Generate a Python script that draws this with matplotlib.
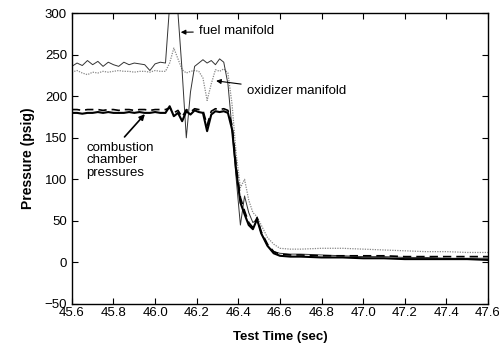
import numpy as np
import matplotlib.pyplot as plt

plt.rcParams['font.family'] = ['Liberation Sans', 'DejaVu Sans']

# test time (sec)
t = [45.600, 45.625, 45.650, 45.675, 45.700, 45.725, 45.750, 45.775, 45.800, 45.825,
     45.850, 45.875, 45.900, 45.925, 45.950, 45.975, 46.000, 46.025, 46.050,
     46.07, 46.09, 46.11, 46.13, 46.15, 46.17, 46.19, 46.21, 46.23, 46.25,
     46.27, 46.29, 46.31, 46.33, 46.35, 46.37, 46.39, 46.41, 46.43, 46.45,
     46.47, 46.49, 46.51, 46.54, 46.57, 46.60, 46.65, 46.70, 46.80, 46.90,
     47.00, 47.10, 47.20, 47.30, 47.40, 47.50, 47.60]

fuel_manifold = [236, 240, 237, 243, 238, 242, 236, 241, 238, 236,
                 241, 238, 240, 239, 238, 231, 239, 241, 240,
                 310, 360, 300, 230, 150, 205, 236, 240, 244, 240,
                 243, 238, 245, 241, 215, 160, 100, 45, 80, 60,
                 48, 52, 35, 20, 13, 11, 10, 10, 9, 8,
                 7, 7, 6, 6, 5, 5, 5]

oxidizer_manifold = [229, 231, 228, 226, 229, 228, 230, 229, 230, 231,
                     230, 230, 229, 230, 230, 229, 231, 230, 230,
                     240, 258, 245, 232, 228, 230, 231, 230, 222, 195,
                     215, 232, 230, 233, 228, 190, 130, 90, 100, 75,
                     60, 55, 45, 30, 22, 17, 16, 16, 17, 17,
                     16, 15, 14, 13, 13, 12, 12]

chamber_a = [180, 180, 179, 180, 180, 181, 180, 181, 180, 180,
             180, 181, 180, 181, 180, 180, 181, 180, 180,
             188, 176, 180, 170, 182, 178, 183, 181, 180, 158,
             178, 182, 181, 182, 180, 160, 110, 72, 58, 45,
             40, 52, 35, 20, 11, 8, 7, 7, 6, 6,
             5, 5, 4, 4, 4, 4, 3]

chamber_b = [184, 184, 183, 184, 184, 184, 183, 184, 184, 183,
             184, 184, 183, 184, 184, 183, 184, 184, 184,
             186, 180, 183, 175, 184, 181, 185, 184, 183, 165,
             182, 185, 184, 185, 183, 165, 115, 78, 62, 48,
             42, 54, 37, 22, 13, 10, 9, 9, 8, 8,
             8, 8, 7, 7, 7, 7, 7]

fig = plt.figure(figsize=(4.99, 3.47), dpi=100)
ax = fig.add_axes([0.144, 0.124, 0.834, 0.838])

ax.plot(t, oxidizer_manifold, color='#888888', lw=0.9, ls=(0, (1, 1)))
ax.plot(t, fuel_manifold, color='#333333', lw=0.7)
ax.plot(t, chamber_b, color='black', lw=1.2, ls=(0, (5, 3)))
ax.plot(t, chamber_a, color='black', lw=1.5)

ax.set_xlim(45.6, 47.6)
ax.set_ylim(-50, 300)
ax.set_xticks(np.arange(45.6, 47.61, 0.2))
ax.set_xticklabels([f'{v:.1f}' for v in np.arange(45.6, 47.61, 0.2)])
ax.set_yticks(range(-50, 301, 50))
ax.tick_params(direction='in', top=True, right=True, labelsize=9.5, length=4, width=0.8)
ax.tick_params(axis='x', pad=2)
for s in ax.spines.values():
    s.set_linewidth(1.0)

ax.set_xlabel('Test Time (sec)', fontsize=9.5, fontweight='bold', labelpad=9)
ax.set_ylabel('Pressure (psig)', fontsize=10, fontweight='bold', labelpad=7)

arrow = dict(arrowstyle='-|>', color='black', lw=0.8, mutation_scale=7)
ax.annotate('fuel manifold', xy=(46.11, 277), xytext=(46.21, 278),
            fontsize=9.5, va='center', arrowprops=arrow)
ax.annotate('oxidizer manifold', xy=(46.28, 219), xytext=(46.44, 206),
            fontsize=9.5, va='center', arrowprops=arrow)
ax.annotate('combustion\nchamber\npressures', xy=(45.96, 181), xytext=(45.67, 123),
            fontsize=9.5, va='center', ha='left', linespacing=1.05,
            arrowprops=dict(arrowstyle='-|>', color='black', lw=1.2, mutation_scale=8,
                            shrinkA=2, relpos=(0.5, 1.0)))

fig.savefig('out.png', dpi=100)
